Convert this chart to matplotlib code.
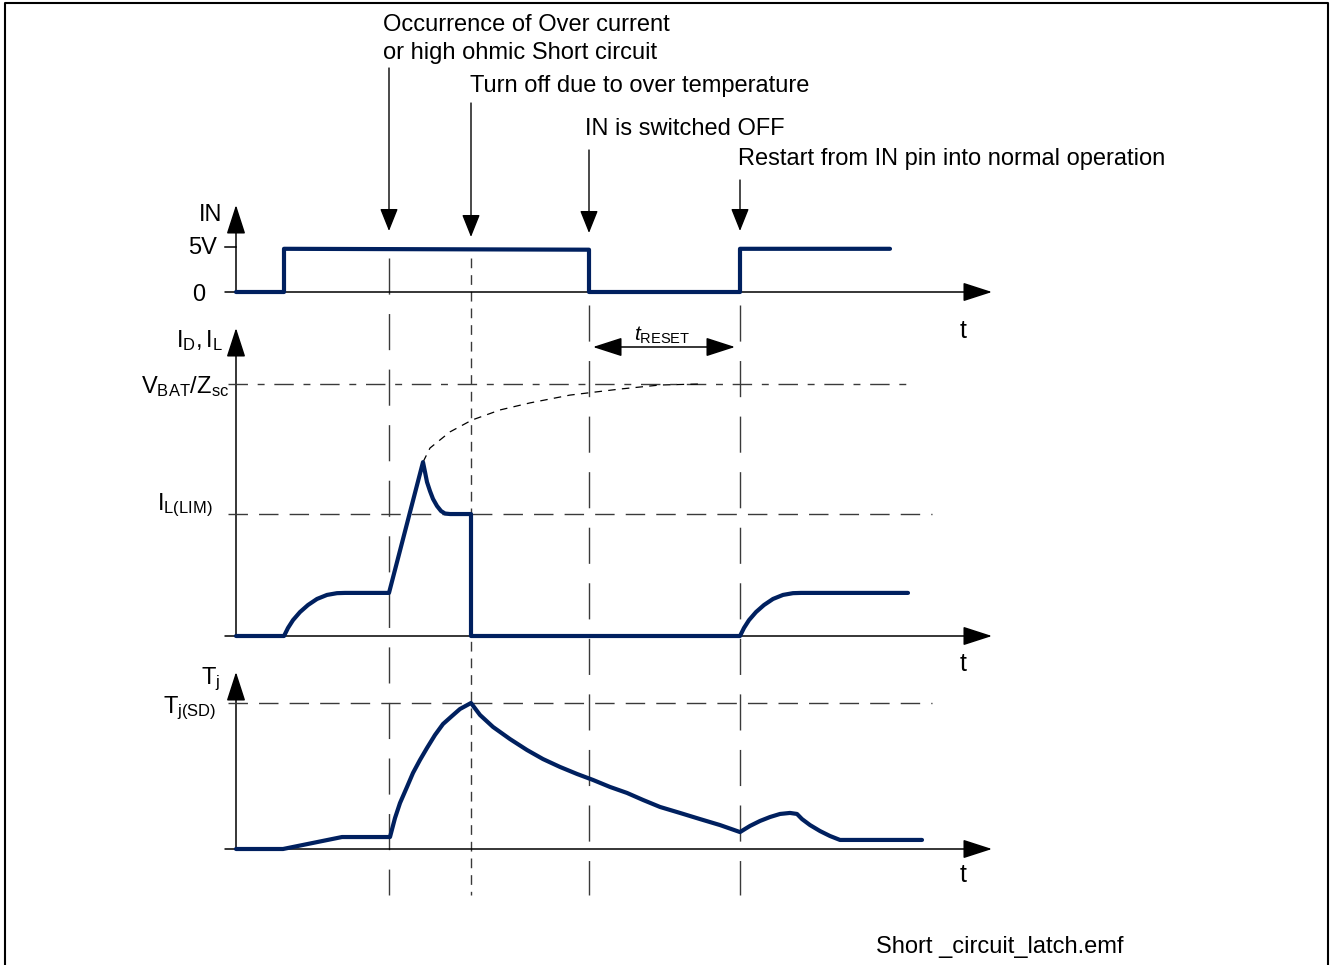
import matplotlib
matplotlib.use("Agg")
import matplotlib.pyplot as plt
import matplotlib.transforms as mtransforms

plt.rcParams['font.family'] = ['Liberation Sans', 'DejaVu Sans']
plt.rcParams['mathtext.fontset'] = 'custom'
plt.rcParams['mathtext.rm'] = 'Liberation Sans'
plt.rcParams['mathtext.it'] = 'Liberation Sans:italic'

# --- data (time in arbitrary units, levels normalised per trace) ---
t_on, t_oc, t_sd, t_off, t_re = 4.8, 15.3, 23.5, 35.3, 50.4
event_times = [t_oc, t_sd, t_off, t_re]
event_labels = ["Occurrence of Over current\nor high ohmic Short circuit",
                "Turn off due to over temperature",
                "IN is switched OFF",
                "Restart from IN pin into normal operation"]

# IN signal (V)
in_t = [0, t_on, t_on, t_off, t_off, t_re, t_re, 65.4]
in_v = [0, 0, 4.8, 4.7, 0, 0, 4.8, 4.8]

# load current, normalised to VBAT/Zsc
i_lim = 0.484
id_t = [0, 4.8, 5.2, 5.7, 6.4, 7.2, 8.1, 9.1, 10.1, 10.9, 15.3,
        18.7, 18.9, 19.1, 19.4, 19.7, 20.1, 20.5, 20.9, 21.4, 23.5, 23.5,
        50.4, 50.8, 51.3, 52.0, 52.8, 53.7, 54.7, 55.7, 56.5, 67.2]
id_v = [0, 0, 0.032, 0.063, 0.095, 0.123, 0.147, 0.163, 0.170, 0.171, 0.171,
        0.69, 0.651, 0.611, 0.575, 0.544, 0.516, 0.496, 0.486, 0.484, 0.484, 0,
        0, 0.032, 0.063, 0.095, 0.123, 0.147, 0.163, 0.170, 0.171, 0.171]
# short circuit current without limitation (dashed)
sc_t = [18.7, 19.4, 20.4, 21.4, 23.6, 26.4, 29.4, 33.4, 38.4, 42.4, 46.4]
sc_v = [0.69, 0.746, 0.778, 0.81, 0.857, 0.897, 0.925, 0.956, 0.98, 0.996, 1.0]

# junction temperature, normalised to Tj(SD)
tj_t = [0, 4.7, 10.6, 15.4, 15.9, 16.4, 17.1, 17.7, 18.4, 19.1, 19.9, 20.7, 21.6, 22.4, 23.5,
        24.4, 25.7, 27.4, 29.1, 30.7, 32.4, 34.1, 35.7, 37.4, 39.1, 40.7, 42.4, 44.4, 46.4,
        48.4, 50.4, 51.4, 52.4, 53.4, 54.4, 55.4, 56.1, 56.6, 57.4, 58.4, 59.4, 60.4, 68.6]
tj_v = [0, 0, 0.082, 0.082, 0.212, 0.315, 0.425, 0.521, 0.610, 0.692, 0.781, 0.856, 0.911,
        0.959, 1.0, 0.918, 0.836, 0.753, 0.678, 0.616, 0.562, 0.514, 0.473, 0.425, 0.384,
        0.336, 0.288, 0.247, 0.205, 0.164, 0.116, 0.158, 0.192, 0.219, 0.240, 0.247, 0.240,
        0.205, 0.164, 0.123, 0.089, 0.062, 0.062]

# --- layout (pixels) ---
W, H = 1331, 965
X0, PX = 236, 10.0
XLIM = (-X0 / PX, (W - X0) / PX)
NAVY = '#00205f'
GREY = '#3a3a3a'
FS = 17

fig = plt.figure(figsize=(W / 100, H / 100), dpi=100)
ov = fig.add_axes([0, 0, 1, 1])
ov.set_xlim(0, W)
ov.set_ylim(H, 0)
ov.axis('off')


def panel(base_px, ref_px, ref_val):
    ax = fig.add_axes([0, 1 - base_px / H, 1, (base_px - ref_px) / H])
    ax.set_xlim(*XLIM)
    ax.set_ylim(0, ref_val)
    ax.axis('off')
    ax.patch.set_alpha(0)
    return ax


ax_in = panel(292, 247, 5.0)
ax_id = panel(636, 384, 1.0)
ax_tj = panel(849, 703, 1.0)

# time in x, pixels in y
bl = mtransforms.blended_transform_factory(ax_in.transData, ov.transData)

arrow_kw = dict(arrowstyle='-|>,head_length=1.3,head_width=0.42', color='black',
                lw=1.1, shrinkA=0, shrinkB=0, mutation_scale=14)
small_arrow = dict(arrowstyle='-|>,head_length=1.0,head_width=0.4', color='black',
                   lw=1.0, shrinkA=0, shrinkB=0, mutation_scale=14)

# axes of each trace
for ax, top_px, t_px in [(ax_in, 205, 331), (ax_id, 328, 664), (ax_tj, 672, 875)]:
    ax.annotate('', xy=(75.6, 0), xytext=(-1.1, 0), xycoords='data',
                arrowprops=arrow_kw, annotation_clip=False)
    base = ax.transData.transform((0, 0))
    ov.annotate('', xy=(0, top_px), xytext=(0, H - base[1]), xycoords=bl, textcoords=bl,
                arrowprops=arrow_kw, annotation_clip=False)
    ov.text(963, t_px, 't', fontsize=FS + 1, ha='center', va='center')

# 5V tick
ax_in.plot([-1.1, 0], [5, 5], color='black', lw=1.1, clip_on=False)

# reference levels
dash_h = (0, (14, 7, 5, 7))
ax_id.plot([-0.8, 67.2], [1.0, 1.0], color=GREY, lw=1.0, ls=dash_h, clip_on=False)
ax_id.plot([-0.8, 69.6], [i_lim, i_lim], color=GREY, lw=1.0, ls=(0, (14, 8)), clip_on=False)
ax_tj.plot([-0.8, 69.6], [1.0, 1.0], color=GREY, lw=1.0, ls=(0, (14, 8)), clip_on=False)

# event markers: vertical dashed lines and arrows from labels
for t, y_start in zip(event_times, [258, 258, 305, 305]):
    ls = (0, (7, 5)) if t == t_sd else (0, (26, 14))
    ov.plot([t, t], [y_start, 895], transform=bl, color=GREY, lw=1.0, ls=ls)

for t, y0, y1 in zip(event_times, [68, 103, 150, 180], [231, 237, 233, 231]):
    ov.annotate('', xy=(t, y1), xytext=(t, y0), xycoords=bl, textcoords=bl,
                arrowprops=small_arrow, annotation_clip=False)

ov.text(383, 31, "Occurrence of Over current", fontsize=FS, ha='left', va='baseline')
ov.text(383, 59, "or high ohmic Short circuit", fontsize=FS, ha='left', va='baseline')
ov.text(470, 92, event_labels[1], fontsize=FS, ha='left', va='baseline')
ov.text(585, 135, event_labels[2], fontsize=FS, ha='left', va='baseline')
ov.text(738, 165, event_labels[3], fontsize=FS, ha='left', va='baseline')

# tRESET
ov.annotate('', xy=(t_re - 0.5, 347), xytext=(t_off + 0.4, 347), xycoords=bl, textcoords=bl,
            arrowprops=dict(arrowstyle='<|-|>,head_length=1.3,head_width=0.42', color='black',
                            lw=1.1, shrinkA=0, shrinkB=0, mutation_scale=14))
ov.text(662, 341, r'$\mathit{t}_{\mathrm{RESET}}$', fontsize=15, ha='center', va='baseline')

# y-axis labels
ov.text(222, 221, 'IN', fontsize=FS, ha='right', va='baseline')
ov.text(217, 254, '5V', fontsize=FS, ha='right', va='baseline')
ov.text(205, 301, '0', fontsize=FS, ha='right', va='baseline')
ov.text(223, 347, r'$\mathrm{I_D, I_L}$', fontsize=FS, ha='right', va='baseline')
ov.text(229, 393, r'$\mathrm{V_{BAT}/Z_{sc}}$', fontsize=FS, ha='right', va='baseline')
ov.text(157, 510, r'$\mathrm{I_{L(LIM)}}$', fontsize=FS, ha='left', va='baseline')
ov.text(220, 684, r'$\mathrm{T_j}$', fontsize=FS, ha='right', va='baseline')
ov.text(163, 713, r'$\mathrm{T_{j(SD)}}$', fontsize=FS, ha='left', va='baseline')

# traces
trace_kw = dict(color=NAVY, lw=3.0, solid_joinstyle='round', solid_capstyle='round',
                clip_on=False, zorder=5)
ax_in.plot(in_t, in_v, **trace_kw)
ax_id.plot(id_t, id_v, **trace_kw)
ax_id.plot(sc_t, sc_v, color='black', lw=0.9, ls=(0, (6, 5)), clip_on=False)
ax_tj.plot(tj_t, tj_v, **trace_kw)

ov.text(876, 953, "Short _circuit_latch.emf", fontsize=FS, ha='left', va='baseline')

# outer frame
ov.plot([5, 5, 1328, 1328], [970, 3, 3, 970], color='black', lw=1.5, clip_on=False)

fig.savefig('out.png', dpi=100)
